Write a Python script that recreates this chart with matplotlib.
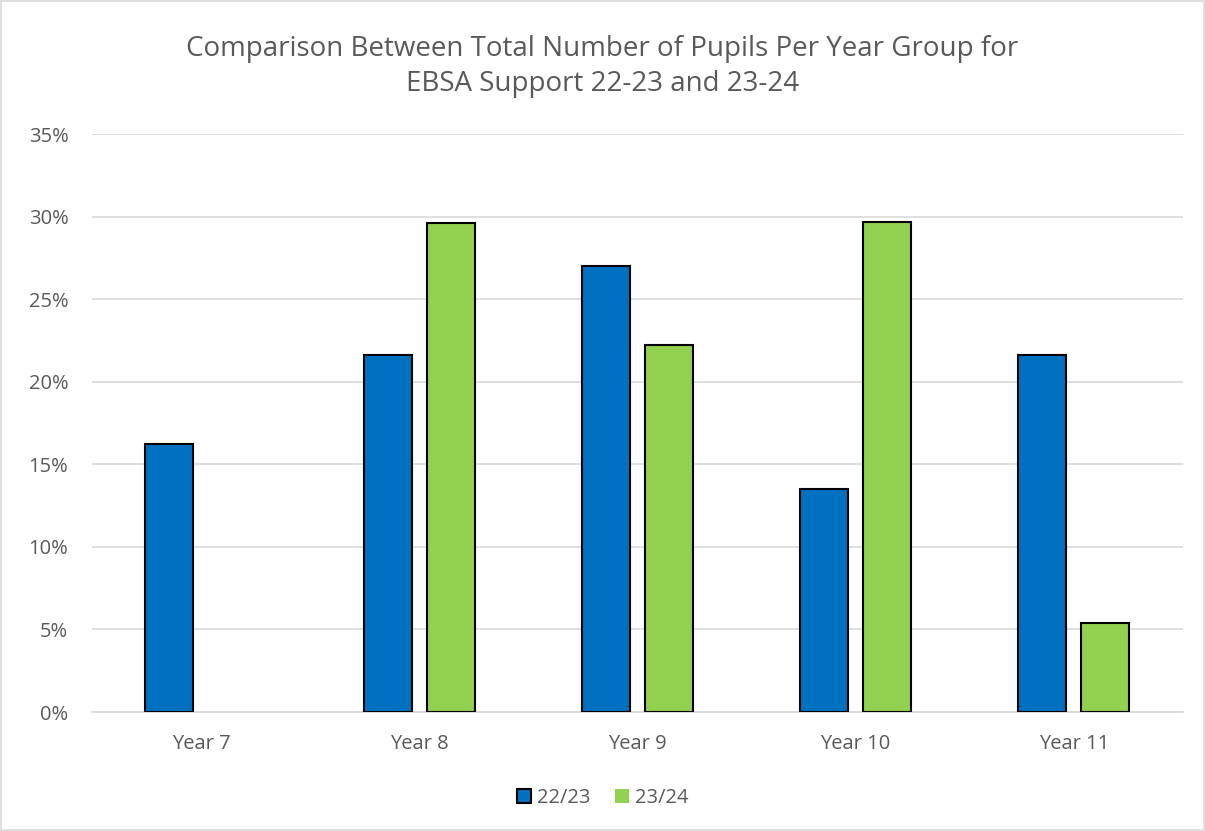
import numpy as np
import matplotlib.pyplot as plt
from matplotlib.ticker import FuncFormatter
from matplotlib.patches import Rectangle

# data (percent of pupils)
years = ['Year 7', 'Year 8', 'Year 9', 'Year 10', 'Year 11']
pct_2223 = [16.2, 21.6, 27.0, 13.5, 21.6]
pct_2324 = [0.0, 29.6, 22.2, 29.7, 5.4]
series_names = ['22/23', '23/24']

plt.rcParams['font.family'] = ['Open Sans', 'DejaVu Sans']
text_color = '#595959'

fig = plt.figure(figsize=(12.05, 8.31), dpi=100)
fig.patches.append(Rectangle((0.0008, 0.001), 0.9984, 0.998, transform=fig.transFigure,
                             fill=False, edgecolor='#d9d9d9', linewidth=1.2))
ax = fig.add_axes([0.0763, 0.1432, 0.9054, 0.6955])

x = np.arange(len(years))
w = 0.22
off = 0.145
# no outline on zero-height bars
lw_2223 = [1.5 if v > 0 else 0 for v in pct_2223]
lw_2324 = [1.5 if v > 0 else 0 for v in pct_2324]
ax.bar(x - off, pct_2223, w, color='#0070c0', edgecolor='black', linewidth=lw_2223,
       label=series_names[0], zorder=3)
ax.bar(x + off, pct_2324, w, color='#92d050', edgecolor='black', linewidth=lw_2324,
       label=series_names[1], zorder=3)

ax.set_xlim(-0.5, len(years) - 0.5)
ax.set_ylim(0, 35)
ax.set_yticks(np.arange(0, 36, 5))
ax.yaxis.set_major_formatter(FuncFormatter(lambda v, p: f'{v:.0f}%'))
ax.set_xticks(x)
ax.set_xticklabels(years)
ax.grid(axis='y', color='#d9d9d9', linewidth=1.2, zorder=0)
for s in ['top', 'right', 'left']:
    ax.spines[s].set_visible(False)
ax.spines['bottom'].set_color('#d9d9d9')
ax.spines['bottom'].set_linewidth(1.2)
ax.tick_params(axis='both', length=0, colors=text_color, labelsize=14.5)
ax.tick_params(axis='x', pad=16)
ax.tick_params(axis='y', pad=17)

fig.suptitle('Comparison Between Total Number of Pupils Per Year Group for\nEBSA Support 22-23 and 23-24',
             y=0.958, fontsize=20, color=text_color, linespacing=1.35)

fig.legend(loc='center', bbox_to_anchor=(0.5, 0.04), ncol=2, frameon=False,
           fontsize=14.5, labelcolor=text_color, handlelength=0.7, handleheight=0.7,
           handletextpad=0.3, columnspacing=1.2)

fig.savefig('out.png', dpi=100)
